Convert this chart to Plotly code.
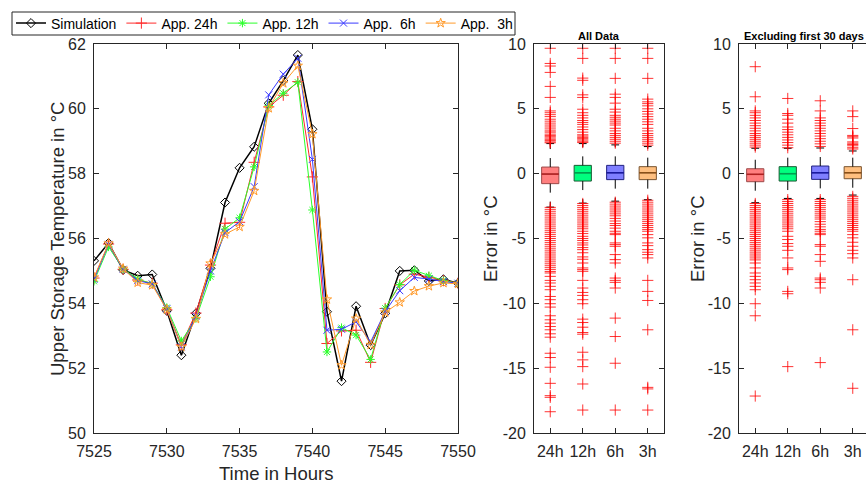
import plotly.graph_objects as go

# ---------------- time series ----------------
hours = list(range(7525, 7551))
simulation = [55.31, 55.86, 55.03, 54.85, 54.89, 53.77, 52.40, 53.69, 55.08, 57.11, 58.18, 58.83, 60.17,
              60.87, 61.66, 59.37, 53.74, 51.60, 53.91, 52.71, 53.69, 55.00, 55.02, 54.69, 54.74, 54.62]
app_24h = [54.78, 55.83, 55.05, 54.72, 54.62, 53.80, 52.72, 53.70, 55.18, 56.47, 56.50, 58.35, 60.06,
           60.42, 60.84, 57.90, 52.76, 53.15, 53.17, 52.18, 53.84, 54.57, 54.90, 54.80, 54.70, 54.62]
app_12h = [54.68, 55.74, 55.06, 54.75, 54.60, 53.87, 52.84, 53.53, 54.82, 56.29, 56.64, 58.21, 60.10,
           60.48, 60.82, 56.88, 52.50, 53.25, 53.02, 52.27, 53.85, 54.58, 55.02, 54.85, 54.70, 54.62]
app_6h = [54.74, 55.82, 55.05, 54.70, 54.60, 53.83, 52.66, 53.60, 55.00, 56.18, 56.52, 57.60, 60.43,
          61.07, 61.56, 58.44, 53.17, 53.20, 53.43, 52.81, 53.75, 54.39, 54.80, 54.75, 54.67, 54.62]
app_3h = [54.80, 55.85, 55.07, 54.64, 54.56, 53.81, 52.66, 53.52, 55.23, 56.13, 56.36, 57.47, 60.02,
          60.79, 61.33, 59.22, 54.12, 52.09, 53.53, 52.72, 53.72, 54.03, 54.38, 54.53, 54.63, 54.60]

# ---------------- error statistics ----------------
categories = ["24h", "12h", "6h", "3h"]

all_q1 = [-0.77, -0.57, -0.46, -0.46]
all_median = [-0.03, 0.07, 0.07, 0.07]
all_q3 = [0.51, 0.64, 0.64, 0.54]
all_lower = [-2.58, -2.27, -2.12, -2.01]
all_upper = [2.32, 2.32, 2.22, 2.09]

all_out_24h = [9.67, 8.5, 8.3, 7.81, 6.73, 5.88, 4.84, 4.7, 4.55, 4.4, 4.2, 4.05, 3.9, 3.75, 3.6, 3.45, 3.3,
               3.2, 3.05, 2.95, 2.85, 2.75, 2.65, 2.55, 2.45, 2.38,
               -2.6, -2.75, -2.9, -3.05, -3.2, -3.35, -3.5, -3.65, -3.8, -3.95, -4.1, -4.25, -4.4, -4.55,
               -4.7, -4.85, -5.0, -5.15, -5.3, -5.45, -5.6, -5.75, -5.9, -6.05, -6.2, -6.35, -6.5, -6.65,
               -6.8, -6.95, -7.1, -7.25, -7.4, -7.55, -7.66, -7.92, -8.23, -8.43, -8.69, -8.95, -9.47,
               -9.72, -10.03, -10.29, -10.96, -11.27, -11.53, -11.79, -12.04, -12.35, -12.61, -13.85,
               -14.18, -14.93, -16.17, -17.12, -17.25, -18.36]
all_out_12h = [9.67, 8.89, 7.37, 7.2, 6.08, 5.88, 4.97, 4.7, 4.5, 4.3, 4.1, 3.95, 3.8, 3.6, 3.4, 3.2, 3.0,
               2.9, 2.8, 2.7, 2.6, 2.5, 2.4,
               -2.3, -2.45, -2.6, -2.75, -2.9, -3.05, -3.2, -3.35, -3.5, -3.65, -3.8, -3.95, -4.1, -4.25,
               -4.44, -4.62, -4.83, -5.0, -5.15, -5.34, -5.5, -5.7, -5.86, -6.1, -6.42, -6.6, -6.89,
               -7.27, -7.4, -7.53, -8.23, -8.82, -9.16, -9.39, -9.72, -10.03, -11.22, -11.48, -11.84,
               -12.25, -12.38, -13.77, -14.36, -14.88, -16.22, -18.23]
all_out_6h = [9.67, 8.89, 7.35, 6.13, 5.88, 5.44, 4.97, 4.75, 4.5, 4.35, 4.2, 4.05, 3.9, 3.75, 3.5, 3.3,
              3.1, 2.95, 2.8, 2.65, 2.5, 2.35,
              -2.2, -2.35, -2.5, -2.65, -2.8, -2.95, -3.1, -3.25, -3.45, -3.65, -3.85, -4.0, -4.2,
              -4.44, -4.6, -4.7, -5.34, -5.47, -5.6, -6.24, -6.63, -6.89, -8.05, -8.23, -8.38, -8.82,
              -11.14, -12.56, -14.62, -18.23]
all_out_3h = [9.67, 8.89, 7.35, 5.75, 5.54, 5.4, 5.23, 5.0, 4.8, 4.6, 4.4, 4.2, 4.0, 3.8, 3.5, 3.3, 3.1,
              2.95, 2.8, 2.65, 2.5, 2.35, 2.2,
              -2.05, -2.2, -2.35, -2.5, -2.65, -2.8, -2.95, -3.1, -3.25, -3.4, -3.55, -3.7, -3.85, -4.0,
              -4.15, -4.3, -4.44, -4.7, -4.95, -5.34, -5.55, -5.86, -6.06, -6.24, -6.5, -8.23, -9.08,
              -9.78, -12.04, -16.48, -16.6, -18.23]

ex_q1 = [-0.62, -0.57, -0.44, -0.39]
ex_median = [-0.05, 0.0, 0.07, 0.07]
ex_q3 = [0.38, 0.54, 0.59, 0.54]
ex_lower = [-2.24, -1.91, -1.91, -1.65]
ex_upper = [1.96, 1.96, 1.98, 1.75]

ex_out_24h = [8.25, 5.93, 4.84, 4.7, 4.5, 4.3, 4.1, 3.9, 3.7, 3.5, 3.3, 3.1, 2.95, 2.8, 2.65, 2.5, 2.35,
              2.2, 2.05,
              -2.3, -2.45, -2.6, -2.75, -2.9, -3.05, -3.2, -3.35, -3.5, -3.65, -3.8, -3.95, -4.1, -4.25,
              -4.4, -4.55, -4.7, -4.85, -5.0, -5.15, -5.3, -5.45, -5.6, -5.75, -5.9, -6.05, -6.2, -6.35,
              -6.5, -6.65, -6.89, -7.27, -7.66, -7.92, -8.18, -8.43, -8.69, -8.95, -10.03, -10.96, -17.15]
ex_out_12h = [5.8, 4.64, 4.5, 4.2, 3.9, 3.6, 3.4, 3.2, 3.0, 2.8, 2.6, 2.4, 2.2, 2.0,
              -2.0, -2.15, -2.3, -2.45, -2.6, -2.75, -2.9, -3.05, -3.2, -3.35, -3.5, -3.65, -3.8, -3.95,
              -4.1, -4.25, -4.44, -4.83, -5.08, -5.39, -5.6, -5.91, -6.5, -7.27, -7.4, -9.08, -9.26,
              -14.88]
ex_out_6h = [5.62, 4.84, 4.3, 4.1, 3.9, 3.7, 3.5, 3.3, 3.1, 2.9, 2.7, 2.5, 2.3, 2.1,
             -2.0, -2.15, -2.3, -2.45, -2.6, -2.75, -2.9, -3.05, -3.2, -3.35, -3.5, -3.7, -3.9, -4.1,
             -4.3, -4.44, -4.6, -4.7, -5.47, -5.6, -6.24, -6.76, -8.05, -8.18, -8.38, -8.82, -14.57]
ex_out_3h = [4.84, 4.4, 3.48, 2.95, 2.85, 2.75, 2.45, 2.35, 2.25, 2.15, 2.0, 1.9,
             -1.75, -1.9, -2.05, -2.2, -2.35, -2.5, -2.65, -2.8, -2.95, -3.1, -3.25, -3.4, -3.55, -3.7,
             -3.85, -4.0, -4.15, -4.3, -4.44, -4.7, -4.95, -5.29, -5.6, -5.91, -6.17, -6.5, -8.18,
             -12.04, -16.55]

# ---------------- styling ----------------
W, H = 866, 485
FONT = "Liberation Sans, Arial, Helvetica, sans-serif"
AX = "#262626"
box_fill = ["#ff7f7f", "#00ff7f", "#7f7fff", "#ffbf7f"]
box_edge = ["#9c4a4a", "#1c5a34", "#222280", "#7a5530"]
box_median = ["#b02020", "#00a050", "#1a1aa0", "#8a5018"]
BOX_W = 0.53
CAP_HALF = 0.12


def px_x(p):
    return p / W


def px_y(p):
    return 1 - p / H


fig = go.Figure()

series = [
    ("Simulation", simulation, "black", "diamond-open", 7, 1.5),
    ("App. 24h", app_24h, "#ff2a2a", "cross-thin-open", 8, 1),
    ("App. 12h", app_12h, "#2aff2a", "asterisk-open", 7, 1),
    ("App.\u00a0\u00a06h", app_6h, "#3a3aff", "x-thin-open", 7, 1),
    ("App.\u00a0\u00a03h", app_3h, "#ff9a2a", "star-open", 7, 1),
]
for name, vals, col, sym, size, lw in series:
    fig.add_trace(go.Scatter(
        x=hours, y=vals, name=name, mode="lines+markers",
        line=dict(color=col, width=lw),
        marker=dict(symbol=sym, size=size, color=col, line=dict(color=col, width=1)),
        xaxis="x", yaxis="y",
    ))


def add_boxes(q1, med, q3, lo, hi, outliers, xa, ya):
    pos = list(range(1, len(categories) + 1))
    for i, p in enumerate(pos):
        # dashed whiskers
        fig.add_trace(go.Scatter(
            x=[p, p, None, p, p], y=[q3[i], hi[i], None, q1[i], lo[i]],
            mode="lines", line=dict(color="black", width=1, dash="dash"),
            showlegend=False, xaxis=xa, yaxis=ya, hoverinfo="skip"))
        # whisker caps
        fig.add_trace(go.Scatter(
            x=[p - CAP_HALF, p + CAP_HALF, None, p - CAP_HALF, p + CAP_HALF],
            y=[hi[i], hi[i], None, lo[i], lo[i]],
            mode="lines", line=dict(color="black", width=1),
            showlegend=False, xaxis=xa, yaxis=ya, hoverinfo="skip"))
        # box body
        fig.add_trace(go.Box(
            x=[p], q1=[q1[i]], median=[med[i]], q3=[q3[i]],
            lowerfence=[q1[i]], upperfence=[q3[i]],
            width=BOX_W, whiskerwidth=0, fillcolor=box_fill[i],
            line=dict(color=box_edge[i], width=1), boxpoints=False,
            showlegend=False, xaxis=xa, yaxis=ya, hoverinfo="skip"))
        # median line
        fig.add_trace(go.Scatter(
            x=[p - BOX_W / 2, p + BOX_W / 2], y=[med[i], med[i]],
            mode="lines", line=dict(color=box_median[i], width=1.5),
            showlegend=False, xaxis=xa, yaxis=ya, hoverinfo="skip"))
        # outliers
        fig.add_trace(go.Scatter(
            x=[p] * len(outliers[i]), y=outliers[i], mode="markers",
            marker=dict(symbol="cross-thin-open", size=8, color="rgba(255,0,0,0.8)",
                        line=dict(color="rgba(255,0,0,0.8)", width=1)),
            showlegend=False, xaxis=xa, yaxis=ya, hoverinfo="skip"))


add_boxes(all_q1, all_median, all_q3, all_lower, all_upper,
          [all_out_24h, all_out_12h, all_out_6h, all_out_3h], "x2", "y2")
add_boxes(ex_q1, ex_median, ex_q3, ex_lower, ex_upper,
          [ex_out_24h, ex_out_12h, ex_out_6h, ex_out_3h], "x3", "y3")

tick_font = dict(family=FONT, size=16, color=AX)
common = dict(showline=True, linecolor=AX, linewidth=1, ticks="inside", ticklen=5,
              tickcolor=AX, tickwidth=1, showgrid=False, zeroline=False, automargin=False,
              tickfont=tick_font, ticklabelstandoff=4)

err_ticks = [-20, -15, -10, -5, 0, 5, 10]
err_text = [str(v) for v in err_ticks]
y_dom = [px_y(433), px_y(44)]

fig.update_layout(
    template="none",
    width=W, height=H, margin=dict(l=0, r=0, t=0, b=0, pad=0, autoexpand=False),
    paper_bgcolor="white", plot_bgcolor="white",
    font=dict(family=FONT, color=AX),
    xaxis=dict(domain=[px_x(94), px_x(458)], range=[7525, 7550],
               tickvals=list(range(7525, 7551, 5)), mirror="ticks", **common),
    yaxis=dict(domain=y_dom, range=[50, 62], tickvals=list(range(50, 63, 2)),
               mirror="ticks", **common),
    xaxis2=dict(domain=[px_x(534), px_x(664)], range=[0.5, 4.5], tickvals=[1, 2, 3, 4],
                ticktext=categories, mirror="ticks", anchor="y2", **common),
    yaxis2=dict(domain=y_dom, range=[-20, 10], tickvals=err_ticks, ticktext=err_text,
                mirror="ticks", anchor="x2", **common),
    xaxis3=dict(domain=[px_x(739), 1.0], range=[0.5, 0.5 + (W - 739) / 32.5],
                tickvals=[1, 2, 3, 4], ticktext=categories, mirror="ticks", anchor="y3", **common),
    yaxis3=dict(domain=y_dom, range=[-20, 10], tickvals=err_ticks, ticktext=err_text,
                mirror=False, anchor="x3", **common),
    legend=dict(orientation="h", x=px_x(11), y=px_y(23.5), xanchor="left", yanchor="middle",
                bgcolor="rgba(0,0,0,0)", borderwidth=0,
                font=dict(family=FONT, size=14, color="black"), itemwidth=30,
                tracegroupgap=0),
    showlegend=True,
    # legend frame
    shapes=[dict(type="rect", xref="paper", yref="paper",
                 x0=px_x(12), x1=px_x(515), y0=px_y(35), y1=px_y(12),
                 line=dict(color=AX, width=1), fillcolor="white", layer="above")],
)

label_font = dict(family=FONT, size=18.5, color=AX)
annotations = [
    dict(text="Time in Hours", x=px_x(276), y=px_y(473), xref="paper", yref="paper",
         showarrow=False, font=label_font, xanchor="center", yanchor="middle"),
    dict(text="Upper Storage Temperature in °C", x=px_x(57), y=px_y(239), xref="paper",
         yref="paper", showarrow=False, font=label_font, textangle=-90,
         xanchor="center", yanchor="middle"),
    dict(text="Error in °C", x=px_x(490), y=px_y(239), xref="paper", yref="paper",
         showarrow=False, font=label_font, textangle=-90, xanchor="center", yanchor="middle"),
    dict(text="Error in °C", x=px_x(697), y=px_y(239), xref="paper", yref="paper",
         showarrow=False, font=label_font, textangle=-90, xanchor="center", yanchor="middle"),
    dict(text="<b>All Data</b>", x=px_x(599), y=px_y(36), xref="paper", yref="paper",
         showarrow=False, font=dict(family=FONT, size=11, color="black"),
         xanchor="center", yanchor="middle"),
    dict(text="<b>Excluding first 30 days</b>", x=px_x(742), y=px_y(36), xref="paper",
         yref="paper", showarrow=False, font=dict(family=FONT, size=11, color="black"),
         xanchor="left", yanchor="middle"),
]
fig.update_layout(annotations=annotations)

fig.write_html("out.html")
